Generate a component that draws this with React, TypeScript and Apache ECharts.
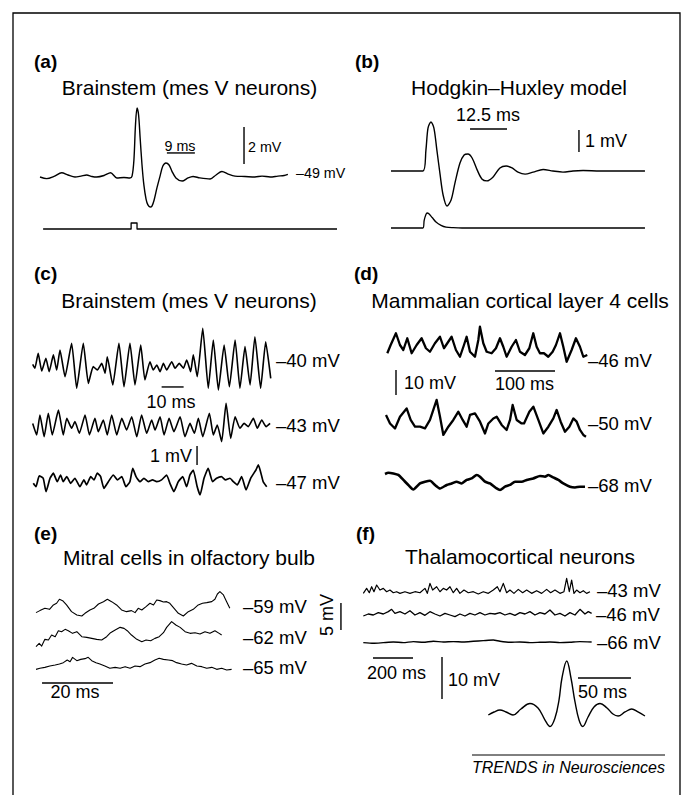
import React, { useEffect, useRef } from "react";
import * as echarts from "echarts";

type Pt = [number, number];

// ---------- DATA (time in ms, membrane potential in mV) ----------
// (a) Brainstem mes V neuron: absolute mV, resting -49 mV
const spikeA: Pt[] = [
  [0, -49.0], [2.15, -49.09], [4.5, -48.97], [6.98, -48.77], [9.0, -48.89], [11.25, -49.0],
  [13.2, -48.95], [15.0, -48.89], [16.7, -48.97], [18.2, -49.0], [20.6, -48.92], [22.7, -48.77],
  [24.7, -49.05], [27.0, -49.03], [28.9, -49.05], [29.6, -48.95], [30.2, -48.08], [30.7, -46.19],
  [31.2, -45.27], [31.7, -45.65], [32.2, -46.89], [32.8, -48.35], [33.4, -49.43], [34.1, -50.19],
  [34.7, -50.51], [35.4, -50.62], [36.0, -50.57], [36.7, -50.24], [37.6, -49.59], [38.6, -48.95],
  [39.5, -48.41], [40.5, -48.24], [41.5, -48.35], [42.4, -48.68], [43.7, -49.05], [45.7, -49.22],
  [47.6, -49.05], [49.2, -48.97], [51.4, -49.05], [54.7, -49.11], [56.6, -48.89], [58.5, -48.7],
  [60.5, -48.84], [62.7, -48.95], [65.9, -48.97], [69.1, -49.0], [71.4, -48.95], [74.0, -49.0],
  [76.5, -48.95], [78.5, -48.92], [79.7, -48.86],
];
// (a) stimulus pulse (relative units)
const stimA: Pt[] = [[1, 0], [29.3, 0], [29.3, 1], [31.2, 1], [31.2, 0], [95.5, 0]];

// (b) Hodgkin-Huxley model: deflection in mV
const spikeB: Pt[] = [
  [0, 0], [10.8, 0], [11.8, 0.95], [12.5, 1.95], [13.5, 2.23], [14.5, 1.95], [15.5, 0.95],
  [16.6, -0.18], [17.6, -1.09], [18.9, -1.59], [20.3, -1.32], [21.6, -0.55], [23.3, 0.36],
  [24.7, 0.73], [26.0, 0.77], [27.4, 0.59], [29.1, 0.05], [30.7, -0.36], [32.4, -0.45],
  [34.5, -0.27], [36.8, 0.14], [38.9, 0.23], [40.9, 0.14], [42.9, -0.05], [45.3, -0.14],
  [48.0, -0.05], [51.4, 0.07], [54.7, 0], [58.1, -0.05], [61.5, 0], [64.9, 0.02], [70.6, 0], [85.8, 0],
];
const stimB: Pt[] = [
  [0, 0], [10.8, 0], [11.2, 0.5], [11.8, 0.9], [12.2, 1.0], [12.8, 0.95], [13.9, 0.7], [15.2, 0.4],
  [16.9, 0.18], [18.6, 0.06], [21, 0.02], [24, 0], [85.8, 0],
];

// (c) Brainstem, three holding levels
const c40: Pt[] = [
  [0, -39.96], [1.0, -40.18], [2.5, -39.35], [4.1, -40.33], [6.0, -39.63], [7.5, -40.37], [9.4, -39.44],
  [10.9, -40.28], [12.4, -39.17], [14.7, -40.65], [17.7, -38.79], [20.0, -41.29], [23.0, -38.79],
  [25.3, -41.02], [27.5, -40.09], [29.4, -40.28], [31.4, -39.91], [32.9, -40.46], [33.9, -39.54],
  [36.4, -41.11], [39.2, -38.79], [41.5, -41.21], [44.2, -38.79], [46.5, -41.11], [49.1, -38.89],
  [51.0, -40.83], [53.3, -39.82], [54.8, -40.28], [56.4, -40.0], [57.9, -40.37], [59.4, -39.91],
  [60.9, -40.28], [63.2, -39.82], [64.7, -40.18], [66.6, -39.91], [68.5, -40.18], [70.0, -39.72],
  [71.8, -40.37], [73.0, -39.44], [74.8, -40.65], [77.3, -37.96], [79.8, -41.29], [82.1, -38.61],
  [84.4, -41.39], [87.0, -38.89], [89.4, -41.21], [92.0, -38.61], [94.2, -41.29], [96.5, -38.98],
  [98.8, -41.11], [101.0, -38.43], [103.6, -41.29], [105.9, -38.71], [108.2, -40.74],
];
const c43: Pt[] = [
  [0, 0.2], [1.8, -0.44], [3.3, 0.67], [5.2, -0.54], [7.1, 0.76], [8.9, -0.44], [11.7, 0.94], [13.9, -0.44],
  [15.5, 0.48], [17.7, -0.07], [19.2, 0.3], [21.2, -0.35], [23.8, 0.67], [25.8, -0.44], [28.3, 0.48],
  [29.8, -0.26], [32.1, 0.39], [33.9, -0.44], [35.9, 0.67], [38.2, -0.44], [40.5, 0.48], [42.7, -0.17],
  [45.0, 0.57], [47.3, -0.54], [49.5, 0.67], [51.8, -0.35], [54.1, 0.39], [55.6, -0.17], [57.9, 0.57],
  [59.7, -0.44], [62.0, 0.48], [64.2, -0.26], [67.0, 0.57], [69.2, -0.54], [71.5, 0.2], [73.5, -0.35],
  [75.3, 0.48], [77.3, -0.54], [80.3, 0.76], [82.1, -0.44], [83.9, 0.11], [85.9, -0.81], [87.9, 1.31],
  [90.0, -0.63], [92.0, 0.57], [94.2, -0.07], [96.1, 0.2], [98.0, 0.02], [100.3, 0.48], [102.1, -0.07],
  [104.1, 0.39], [106.1, 0.02], [107.9, 0.2],
];
const c47: Pt[] = [
  [0, 0], [1.2, -0.19], [2.7, 0.41], [4.5, 0.28], [5.8, -0.46], [7.6, 0.28], [9.1, 0.56], [10.9, 0.09],
  [12.4, 0.46], [13.6, 0.09], [15.2, 0.37], [17.0, 0], [18.9, 0.28], [21.2, -0.19], [23.0, 0.19],
  [24.2, -0.09], [26.1, 0.37], [27.6, 0.19], [29.1, 0.56], [30.6, 0.37], [32.1, -0.28], [34.1, 0.09],
  [36.4, 0.46], [38.2, 0.19], [40.2, 0.37], [42.1, -0.19], [43.9, 0.09], [45.2, 0.83], [46.7, 0.37],
  [48.5, 0.09], [50.3, 0.28], [52.3, 0.09], [54.2, 0.19], [56.1, 0.09], [58.3, 0.19], [60.6, 0.46],
  [62.1, 0], [63.9, -0.46], [65.9, 0.09], [67.9, 0.37], [69.7, -0.19], [71.2, 0.46], [72.7, 0.74],
  [74.5, -0.19], [75.8, -0.65], [77.6, 0.28], [79.5, 0.83], [81.5, 0.09], [83.3, 0.28], [85.5, 0.37],
  [87.4, 0.19], [89.4, 0.28], [90.9, 0.09], [92.7, -0.09], [94.7, 0.37], [96.7, -0.37], [98.8, 0.28],
  [101.2, 0.74], [102.3, 1.02], [104.5, 0.09], [106.1, -0.19],
];

// (d) Mammalian cortical layer 4 cells (deflection mV)
const d46: Pt[] = [
  [0, -1.3], [5.6, 2.0], [14.4, 6.7], [21.1, 2.0], [26.7, 0], [33.3, 4.7], [40.6, -1.3], [48.9, 2.0],
  [57.2, 4.7], [64.4, 0.7], [71.1, -0.7], [79.4, 2.7], [87.8, 5.3], [94.4, 0.7], [100, 2.7], [107.2, 5.3],
  [114.4, 0], [121.1, -2.7], [127.8, 2.0], [132.2, 5.3], [137.8, -0.7], [146.1, -2.7], [151.7, 4.0],
  [154.4, 9.3], [160, 2.7], [165.6, -0.7], [173.9, -1.3], [181.1, 0.7], [187.8, 4.7], [193.3, 1.3],
  [198.9, -2.7], [207.2, 1.3], [214.4, 4.0], [221.1, -0.7], [229.4, -2.0], [236.7, 0.7], [243.3, 6.7],
  [248.9, 1.3], [254.4, -1.3], [261.1, -1.3], [268.3, -2.7], [275.6, -0.7], [281.1, 2.0], [287.8, 6.7],
  [293.3, 1.3], [298.9, -4.7], [307.2, 0], [314.4, 4.7], [321.1, 1.3], [326.7, -2.7], [333.3, -2.0],
];
const d50: Pt[] = [
  [0, 2.7], [6.7, -0.7], [15, -2.7], [23.3, 2.0], [34.4, 5.3], [41.1, 0.7], [48.3, -2.0], [56.7, -2.0],
  [65, -2.7], [73.3, 0.7], [84.4, 8.7], [90, 2.0], [95.6, -5.3], [103.9, -2.0], [112.2, 0.7], [120.6, 4.0],
  [127.8, 0.7], [134.4, -2.0], [140, 2.7], [148.3, 3.3], [156.7, 0], [165, -4.7], [170.6, -0.7],
  [178.9, 1.3], [184.4, 2.0], [192.8, -1.3], [201.1, -3.3], [206.7, 0.7], [211.1, 6.7], [217.8, 0.7],
  [226.1, -0.7], [230, -0.7], [238.9, 4.0], [245.6, 6.0], [253.9, 0.7], [262.2, -4.7], [270.6, -2.0],
  [278.9, 1.3], [284.4, 4.7], [291.1, 0], [298.3, -4.0], [305.6, -2.0], [312.2, 1.3], [317.8, 0],
  [323.3, -3.3], [328.9, -5.3], [333.3, -6.0],
];
const d68: Pt[] = [
  [0, 3.1], [5.6, 3.6], [13.9, 3.3], [22.2, 2.7], [30.6, 0.7], [38.9, -1.3], [47.2, -3.1], [58.3, -0.7],
  [66.7, 0], [75, 0.4], [83.3, -1.3], [91.7, -2.7], [102.8, -1.3], [111.1, -0.7], [119.4, 0],
  [127.8, -0.7], [136.1, 0.7], [144.4, 1.3], [152.8, 2.7], [158.3, 2.0], [166.7, 0], [175, -0.7],
  [186.1, -2.7], [191.7, -3.3], [200, -2.0], [208.3, -1.3], [216.7, 0], [227.8, 0], [236.1, 0.7],
  [247.2, 1.3], [258.3, 2.3], [266.7, 2.0], [272.2, 2.7], [280.6, 1.7], [288.9, 0.7], [297.2, -0.7],
  [308.3, -2.0], [316.7, -2.3], [325, -2.0], [333.3, -2.0],
];

// (e) Mitral cells in olfactory bulb (deflection mV)
const e59: Pt[] = [
  [0, -0.8], [1.1, -0.43], [2.5, 0], [3.8, -0.19], [4.9, 0.62], [5.8, 0.93], [6.6, 1.67], [7.5, 1.42],
  [8.6, 0.62], [10.0, -0.62], [11.5, -1.23], [12.9, -1.42], [13.8, -0.93], [15.2, -0.31], [16.3, 0],
  [17.6, 0.8], [19.0, 1.23], [20.1, 1.67], [21.3, 1.23], [22.7, 0.62], [24.1, -0.31], [25.5, -0.62],
  [26.9, -0.43], [27.9, -0.8], [28.8, 0], [29.8, -0.31], [31.0, 0.31], [32.1, 0.93], [33.1, 0.62],
  [34.0, 1.54], [34.9, 1.42], [35.9, 1.17], [36.8, 1.23], [37.7, 0.93], [38.9, 0], [40.1, -0.93],
  [41.5, -1.42], [42.9, -0.62], [44.3, -0.19], [45.7, 0.62], [46.9, 0.93], [48.1, 1.05], [49.5, 1.23],
  [50.4, 1.67], [51.1, 2.65], [51.8, 3.09], [52.8, 2.47], [53.7, 1.23], [54.6, 0],
];
const e62: Pt[] = [
  [0, -1.85], [0.9, -1.23], [1.6, -1.73], [2.5, -0.49], [3.5, -0.62], [4.4, 0.31], [5.4, 0], [6.3, 1.11],
  [7.2, 0.93], [8.2, 1.36], [9.1, 1.11], [10.3, 0.62], [11.5, 0.93], [12.9, 0], [14.3, -0.12], [15.7, -0.31],
  [17.1, -0.49], [18.5, -0.62], [19.9, 0], [21.0, 0.74], [22.3, 1.23], [23.7, 1.73], [24.8, 1.54],
  [25.7, 1.11], [26.9, 0.31], [28.4, -0.49], [29.8, -0.93], [31.0, -0.62], [32.3, -0.74], [33.5, -0.31],
  [34.7, 0], [35.9, 0.74], [36.8, 1.73], [38.2, 2.78], [39.4, 2.16], [40.6, 1.73], [42.0, 0.93],
  [43.4, 0.62], [44.8, 0.74], [46.2, 0.49], [47.6, 0.93], [49.0, 0.62], [50.4, 1.11], [51.6, 0.62], [52.3, 0.31],
];
const e65: Pt[] = [
  [0, -0.62], [1.1, -0.43], [2.5, -0.25], [3.9, 0], [5.4, 0.19], [6.6, 0.37], [7.7, 0.62], [8.8, 1.11],
  [9.6, 0.8], [10.3, 1.6], [11.5, 0.99], [12.6, 1.23], [13.8, 1.36], [14.7, 1.6], [15.7, 0.99], [16.9, 0.62],
  [18.0, 0.37], [19.4, 0], [20.8, -0.43], [22.3, -0.25], [23.7, -0.43], [25.1, -0.12], [26.5, -0.43],
  [27.9, 0], [29.3, -0.12], [30.7, 0.37], [32.1, 0.62], [33.5, 1.11], [34.7, 1.42], [35.9, 1.23],
  [37.3, 1.11], [38.5, 0.99], [39.6, 0.62], [41.0, 0.37], [42.4, 0.19], [43.8, 0.49], [45.3, 0],
  [46.7, -0.12], [48.1, -0.43], [49.5, -0.25], [50.9, -0.62], [52.3, -0.43], [53.7, -0.74], [55.1, -0.62],
];

// (f) Thalamocortical neurons (deflection mV)
const f43: Pt[] = [
  [0, -0.63], [16.7, 0.56], [30, -0.48], [41.7, 0.95], [53.3, -0.24], [66.7, 1.35], [83.3, 0.16], [100, 0.56],
  [116.7, -0.24], [133.3, 0.16], [150, -0.48], [166.7, -0.24], [183.3, -0.63], [208.3, -0.24], [233.3, -0.63],
  [258.3, -0.24], [283.3, -0.48], [308.3, 0.56], [320, -0.63], [333.3, 1.75], [346.7, 0.16], [366.7, 0.95],
  [383.3, -0.24], [400, 0.56], [416.7, 0.16], [433.3, 0.95], [450, -0.48], [466.7, 0.56], [483.3, -0.63],
  [503.3, 0.16], [525, -0.48], [550, -0.24], [575, -0.79], [600, -0.24], [625, -0.63], [650, 0.16],
  [670, 0.95], [683.3, -0.24], [700, 1.75], [716.7, -0.48], [733.3, 0.16], [753.3, -0.63], [775, 0.32],
  [796.7, -0.48], [816.7, 0.16], [841.7, -0.63], [866.7, 0], [891.7, -0.63], [916.7, 0.32], [936.7, -0.48],
  [958.3, 0.16], [983.3, -0.63], [1003.3, -0.24], [1016.7, 2.94], [1030, -0.24], [1041.7, 2.54],
  [1053.3, -0.63], [1066.7, 0.16], [1083.3, -0.48], [1100, 0], [1116.7, -0.63], [1133.3, -0.24],
];
const f46: Pt[] = [
  [0, -0.48], [25, 0], [50, -0.24], [75, 0.32], [100, 0], [125, 0.56], [141.7, 1.11], [158.3, 0.16],
  [183.3, 0.56], [208.3, 0], [233.3, 0.79], [258.3, -0.24], [283.3, 0.32], [308.3, -0.32], [333.3, 0.56],
  [358.3, 0], [383.3, -0.48], [408.3, 0.16], [433.3, -0.24], [458.3, -0.63], [483.3, 0], [508.3, -0.48],
  [533.3, 0.16], [558.3, -0.24], [583.3, 0.32], [608.3, -0.24], [633.3, 0.16], [658.3, 0], [683.3, 0.32],
  [708.3, -0.24], [733.3, 0.16], [758.3, -0.32], [783.3, 0.32], [808.3, 0], [833.3, 0.56], [858.3, -0.24],
  [883.3, 0.32], [908.3, 0], [933.3, 0.95], [958.3, -0.24], [983.3, 0.16], [1008.3, -0.48], [1033.3, 0.32],
  [1058.3, -0.24], [1083.3, 1.11], [1108.3, 0], [1125, 0.56], [1141.7, 0.16],
];
const f66: Pt[] = [
  [0, -0.08], [50, -0.24], [100, -0.08], [150, 0.08], [200, -0.08], [250, 0.16], [300, 0], [350, 0.24],
  [400, 0.08], [450, 0.16], [500, 0.08], [550, 0.24], [600, 0.4], [650, 0.56], [683.3, 0.24], [733.3, 0],
  [783.3, 0.08], [833.3, -0.08], [883.3, 0], [933.3, 0.08], [983.3, -0.08], [1033.3, 0], [1083.3, 0.16],
  [1141.7, 0.08],
];
// (f) averaged waveform
const fAvg: Pt[] = [
  [0, -0.24], [5.4, 0.48], [11.0, 0.95], [16.7, 0.48], [23.3, -0.24], [30.8, 1.19], [39.3, 2.5], [46.9, 1.43],
  [53.5, -1.43], [58.2, -2.98], [62.9, -0.95], [66.7, 3.33], [69.5, 8.57], [74.0, 12.62], [78.0, 8.57],
  [81.8, 2.86], [85.6, -1.43], [89.1, -2.98], [94.1, -0.71], [99.7, 1.67], [105.4, 2.5], [112.0, 1.43],
  [117.6, 0], [122.4, -0.48], [129.0, 0.48], [135.3, 1.19], [141.2, 0.48], [147.8, -0.48],
];

// scale bars [start, end] in each trace's units
const scaleBars: { frame: string; pts: Pt[] }[] = [
  { frame: "a1", pts: [[40.8, -47.7], [49.8, -47.7]] },
  { frame: "a1", pts: [[65.6, -48.3], [65.6, -46.3]] },
  { frame: "b1", pts: [[26.7, 1.91], [39.2, 1.91]] },
  { frame: "b1", pts: [[63.5, 0.86], [63.5, 1.86]] },
  { frame: "c1", pts: [[58.6, -41.22], [68.6, -41.22]] },
  { frame: "c2", pts: [[74.7, -2.11], [74.7, -1.06]] },
  { frame: "d1", pts: [[179.5, -8.4], [279.5, -8.4]] },
  { frame: "d1", pts: [[14.5, -18], [14.5, -8]] },
  { frame: "e1", pts: [[85.9, -4.02], [85.9, 0.98]] },
  { frame: "e3", pts: [[1.7, -3.15], [21.7, -3.15]] },
  { frame: "f3", pts: [[48.5, -3.74], [248.5, -3.74]] },
  { frame: "f3", pts: [[393.5, -13.5], [393.5, -3.5]] },
  { frame: "f4", pts: [[84.6, 8.57], [134.6, 8.57]] },
];

// ---------- LAYOUT ----------
interface Frame { left: number; pxT: number; tMax: number; baseY: number; pxV: number; vBase: number }
const frames: Record<string, Frame> = {
  a1: { left: 40, pxT: 3.11, tMax: 80, baseY: 177, pxV: 18.5, vBase: -49 },
  a2: { left: 40, pxT: 3.11, tMax: 96, baseY: 229, pxV: 6, vBase: 0 },
  b1: { left: 391, pxT: 2.96, tMax: 85.8, baseY: 171, pxV: 22, vBase: 0 },
  b2: { left: 391, pxT: 2.96, tMax: 85.8, baseY: 228, pxV: 15, vBase: 0 },
  c1: { left: 32.7, pxT: 2.2, tMax: 108.2, baseY: 365, pxV: 18, vBase: -40 },
  c2: { left: 32.7, pxT: 2.2, tMax: 108, baseY: 427, pxV: 18, vBase: 0 },
  c3: { left: 33.3, pxT: 2.2, tMax: 106.1, baseY: 483.3, pxV: 18, vBase: 0 },
  d1: { left: 387.3, pxT: 0.6, tMax: 333.3, baseY: 350, pxV: 2.5, vBase: 0 },
  d2: { left: 386, pxT: 0.6, tMax: 333.3, baseY: 421.7, pxV: 2.5, vBase: 0 },
  d3: { left: 385, pxT: 0.6, tMax: 333.3, baseY: 481.7, pxV: 2.5, vBase: 0 },
  e1: { left: 36, pxT: 3.55, tMax: 86, baseY: 608.3, pxV: 5.4, vBase: 0 },
  e2: { left: 36, pxT: 3.55, tMax: 86, baseY: 636.7, pxV: 5.4, vBase: 0 },
  e3: { left: 36, pxT: 3.55, tMax: 86, baseY: 666, pxV: 5.4, vBase: 0 },
  f1: { left: 363.3, pxT: 0.2, tMax: 1142, baseY: 590.7, pxV: 4.2, vBase: 0 },
  f2: { left: 363.3, pxT: 0.2, tMax: 1142, baseY: 614, pxV: 4.2, vBase: 0 },
  f3: { left: 363.3, pxT: 0.2, tMax: 1142, baseY: 642.3, pxV: 4.2, vBase: 0 },
  f4: { left: 488.3, pxT: 1.06, tMax: 148, baseY: 714, pxV: 4.2, vBase: 0 },
};

const traces: { frame: string; data: Pt[]; width: number; smooth: number }[] = [
  { frame: "a1", data: spikeA, width: 1.4, smooth: 0.3 },
  { frame: "a2", data: stimA, width: 1.3, smooth: 0 },
  { frame: "b1", data: spikeB, width: 1.4, smooth: 0.3 },
  { frame: "b2", data: stimB, width: 1.3, smooth: 0.3 },
  { frame: "c1", data: c40, width: 1.6, smooth: 0.15 },
  { frame: "c2", data: c43, width: 1.6, smooth: 0.15 },
  { frame: "c3", data: c47, width: 1.7, smooth: 0.15 },
  { frame: "d1", data: d46, width: 2.3, smooth: 0 },
  { frame: "d2", data: d50, width: 2.3, smooth: 0 },
  { frame: "d3", data: d68, width: 2.6, smooth: 0.2 },
  { frame: "e1", data: e59, width: 1.1, smooth: 0 },
  { frame: "e2", data: e62, width: 1.1, smooth: 0 },
  { frame: "e3", data: e65, width: 1.1, smooth: 0 },
  { frame: "f1", data: f43, width: 1.2, smooth: 0 },
  { frame: "f2", data: f46, width: 1.3, smooth: 0 },
  { frame: "f3", data: f66, width: 1.4, smooth: 0.2 },
  { frame: "f4", data: fAvg, width: 1.4, smooth: 0.4 },
];

const FONT = '"Liberation Sans", Arial, Helvetica, sans-serif';
const D = "\u2013";

type Lbl = [string, number, number, "left" | "center" | "right", number, string?];
const labels: Lbl[] = [
  ["(a)", 34, 61, "left", 19, "bold"],
  ["Brainstem (mes V neurons)", 189.5, 87, "center", 21],
  ["(b)", 355, 61, "left", 19, "bold"],
  ["Hodgkin" + D + "Huxley model", 519, 87, "center", 21],
  ["9 ms", 180, 146, "center", 14.3],
  ["2 mV", 248, 147, "left", 14.3],
  [D + "49 mV", 296, 173, "left", 14.3],
  ["12.5 ms", 488, 115, "center", 18],
  ["1 mV", 585, 141, "left", 18],
  ["(c)", 34, 273, "left", 19, "bold"],
  ["Brainstem (mes V neurons)", 189, 300, "center", 21],
  [D + "40 mV", 276, 360, "left", 18.5],
  ["10 ms", 171, 402, "center", 18],
  [D + "43 mV", 276, 425, "left", 18.5],
  ["1 mV", 192, 456, "right", 18],
  [D + "47 mV", 276, 482, "left", 18.5],
  ["(d)", 354, 273, "left", 19, "bold"],
  ["Mammalian cortical layer 4 cells", 520, 300, "center", 21],
  [D + "46 mV", 588, 360, "left", 18.5],
  ["10 mV", 404, 383, "left", 18],
  ["100 ms", 495, 384, "left", 18],
  [D + "50 mV", 588, 423, "left", 18.5],
  [D + "68 mV", 588, 485, "left", 18.5],
  ["(e)", 34, 533, "left", 19, "bold"],
  ["Mitral cells in olfactory bulb", 189, 557, "center", 21],
  [D + "59 mV", 243, 606, "left", 18.5],
  [D + "62 mV", 243, 637, "left", 18.5],
  [D + "65 mV", 243, 667, "left", 18.5],
  ["20 ms", 75, 692, "center", 18],
  ["(f)", 356, 533, "left", 19, "bold"],
  ["Thalamocortical neurons", 520, 556, "center", 21],
  [D + "43 mV", 597, 590, "left", 18.5],
  [D + "46 mV", 596, 614, "left", 18.5],
  [D + "66 mV", 597, 642, "left", 18.5],
  ["200 ms", 367, 673, "left", 18],
  ["10 mV", 448, 680, "left", 18],
  ["50 ms", 578, 692, "left", 18],
];

export default function App() {
  const ref = useRef<HTMLDivElement>(null);
  useEffect(() => {
    const el = ref.current!;
    const chart = echarts.init(el, null, { renderer: "svg", width: 683, height: 795 });
    const keys = Object.keys(frames);
    const grid: any[] = [];
    const xAxis: any[] = [];
    const yAxis: any[] = [];
    keys.forEach((k, i) => {
      const f = frames[k];
      const half = Math.min(150, f.baseY - 2, 793 - f.baseY);
      grid.push({ left: f.left, top: f.baseY - half, width: f.tMax * f.pxT, height: 2 * half, containLabel: false });
      xAxis.push({ type: "value", gridIndex: i, min: 0, max: f.tMax, show: false });
      yAxis.push({ type: "value", gridIndex: i, min: f.vBase - half / f.pxV, max: f.vBase + half / f.pxV, show: false });
    });
    const series: any[] = [];
    traces.forEach((t) => {
      const i = keys.indexOf(t.frame);
      series.push({
        type: "line", xAxisIndex: i, yAxisIndex: i, data: t.data, symbol: "none", showSymbol: false,
        smooth: t.smooth || false, clip: false, silent: true,
        lineStyle: { color: "#000", width: t.width, join: "round" },
      });
    });
    scaleBars.forEach((b) => {
      const i = keys.indexOf(b.frame);
      series.push({
        type: "line", xAxisIndex: i, yAxisIndex: i, data: b.pts, symbol: "none", showSymbol: false,
        clip: false, silent: true, lineStyle: { color: "#000", width: 1.4 },
      });
    });
    const graphic: any[] = [
      { type: "rect", shape: { x: 13, y: 13, width: 667, height: 800 }, style: { fill: "none", stroke: "#000", lineWidth: 1.3 }, silent: true },
      { type: "line", shape: { x1: 472, y1: 755, x2: 665, y2: 755 }, style: { stroke: "#000", lineWidth: 1 }, silent: true },
      {
        type: "text", x: 472, y: 767,
        style: { text: "TRENDS in Neurosciences", font: `italic 16px ${FONT}`, fill: "#000", textAlign: "left", textVerticalAlign: "middle" },
      },
      {
        type: "text", x: 327, y: 615, rotation: Math.PI / 2,
        style: { text: "5 mV", font: `18px ${FONT}`, fill: "#000", textAlign: "center", textVerticalAlign: "middle" },
      },
    ];
    labels.forEach(([text, x, y, align, size, weight]) => {
      graphic.push({
        type: "text", x, y, silent: true,
        style: { text, font: `${weight ? weight + " " : ""}${size}px ${FONT}`, fill: "#000", textAlign: align, textVerticalAlign: "middle" },
      });
    });
    chart.setOption({ animation: false, backgroundColor: "#fff", grid, xAxis, yAxis, series, graphic });
    return () => chart.dispose();
  }, []);
  return <div ref={ref} style={{ position: "fixed", left: 0, top: 0, width: 683, height: 795, background: "#fff" }} />;
}
